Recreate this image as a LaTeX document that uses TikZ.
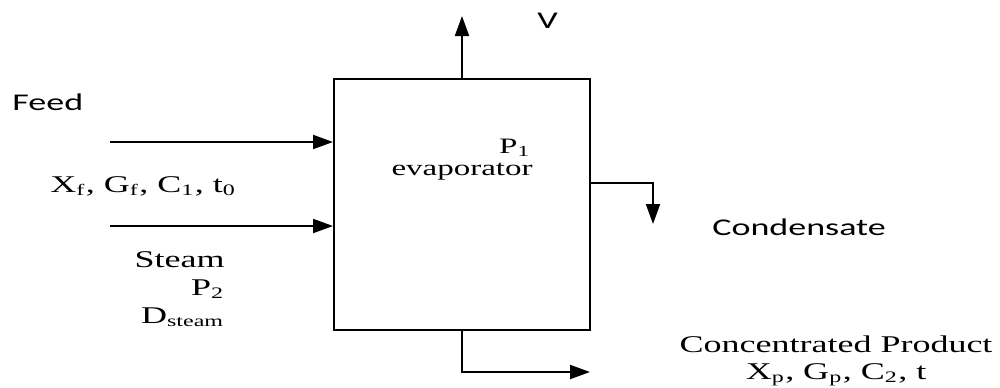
\documentclass[tikz,border=0pt]{standalone}
\usepackage{fontspec}
\setmainfont{Liberation Serif}
\newfontfamily\labelsans{Carlito}
\usetikzlibrary{arrows.meta}
\newcommand\widetext[1]{\scalebox{1.5}[1]{#1}}
\tikzset{
  flow/.style={line width=1pt, -{Triangle[length=10pt,width=7pt]}},
  unit/.style={draw, line width=1pt, inner sep=0pt},
  sanslabel/.style={inner sep=0pt, font=\labelsans\fontsize{12}{14}\selectfont},
  seriflabel/.style={inner sep=0pt, font=\fontsize{12}{14}\selectfont},
  smallserif/.style={inner sep=0pt, font=\fontsize{11}{11}\selectfont}
}
\begin{document}
\begin{tikzpicture}[x=0.5pt,y=-0.5pt]
\useasboundingbox (0,0) rectangle (1000,387);
% evaporator box
\node[unit, minimum width=128pt, minimum height=125.5pt] (evap) at (462,204.5) {};
% coordinates
\coordinate (vtop) at (462,16);
\coordinate (feedin) at (110,142);
\coordinate (steamin) at (110,226);
\coordinate (condturn) at (653,183);
\coordinate (condend) at (653,224);
\coordinate (prodturn) at (462,372);
\coordinate (prodend) at (590,372);
% connectors
\draw[flow] (evap.north) -- (vtop);
\draw[flow] (feedin) -- (feedin -| evap.west);
\draw[flow] (steamin) -- (steamin -| evap.west);
\draw[flow] (condturn -| evap.east) -- (condturn) -- (condend);
\draw[flow] (evap.south) -- (prodturn) -- (prodend);
% labels
\node[sanslabel, anchor=base west] (vlabel) at (537,28) {\widetext{V}};
\node[sanslabel, anchor=base west] (feedlabel) at (12,110) {\widetext{Feed}};
\node[seriflabel, anchor=base west] (feedvars) at (50,192) {\widetext{X\textsubscript{f}, G\textsubscript{f}, C\textsubscript{1}, t\textsubscript{0}}};
\node[seriflabel, anchor=base east] (steamlabel) at (225,267) {\widetext{Steam}};
\node[seriflabel, anchor=base east] (ptwo) at (225,295) {\widetext{P\textsubscript{2}}};
\node[seriflabel, anchor=base east] (dsteam) at (225,323) {\widetext{D\textsubscript{steam}}};
\node[smallserif, anchor=base east] (pone) at (531,153) {\widetext{P\textsubscript{1}}};
\node[smallserif, anchor=base east] (evaplabel) at (533,175) {\widetext{evaporator}};
\node[sanslabel, anchor=base west] (condlabel) at (712,235) {\widetext{Condensate}};
\node[seriflabel, anchor=base] (prodlabel) at (836,352) {\widetext{Concentrated Product}};
\node[seriflabel, anchor=base] (prodvars) at (836,379) {\widetext{X\textsubscript{p}, G\textsubscript{p}, C\textsubscript{2}, t}};
\end{tikzpicture}
\end{document}
